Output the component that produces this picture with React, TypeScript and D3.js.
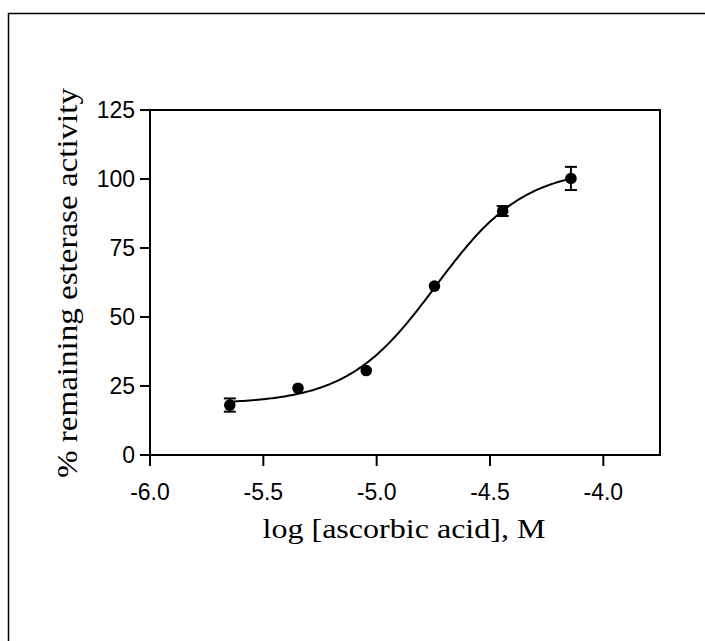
import React from "react";
import * as d3 from "d3";

const logConc = [-5.648, -5.347, -5.046, -4.745, -4.444, -4.143];
const activity = [18.1, 24.2, 30.6, 61.2, 88.4, 100.2];
const sem = [2.4, 0, 0, 0, 1.8, 4.2];
const xTicks = [-6.0, -5.5, -5.0, -4.5, -4.0];
const yTicks = [0, 25, 50, 75, 100, 125];
// fitted sigmoid (4-parameter logistic) parameters
const fitBottom = 18.5;
const fitTop = 104;
const fitLogEC50 = -4.739;
const fitHill = 2.22;

const W = 705;
const H = 641;
const L = 150, R = 660, T = 110, B = 455;

export default function App() {
  const x = d3.scaleLinear().domain([-6, -3.75]).range([L, R]);
  const y = d3.scaleLinear().domain([0, 125]).range([B, T]);
  const model = (v: number) =>
    fitBottom + (fitTop - fitBottom) / (1 + Math.pow(10, (fitLogEC50 - v) * fitHill));
  const xs = d3.range(0, 201).map(i => logConc[0] + (logConc[logConc.length - 1] - logConc[0]) * i / 200);
  const line = d3.line<number>().x(v => x(v)).y(v => y(model(v)));
  const sans = "'Liberation Sans', Arial, sans-serif";
  const serif = "'Liberation Serif', 'Times New Roman', serif";
  return (
    <svg width={W} height={H} style={{ position: "absolute", left: 0, top: 0, background: "#fff" }}>
      <rect x={0} y={0} width={W} height={H} fill="#fff" />
      <rect x={8.5} y={13.5} width={W + 10} height={H + 10} fill="none" stroke="#000" strokeWidth={1.5} />
      {/* plot frame */}
      <rect x={L} y={T} width={R - L} height={B - T} fill="none" stroke="#000" strokeWidth={2} />
      {yTicks.map(t => (
        <g key={"y" + t}>
          <line x1={L - 10} x2={L} y1={y(t)} y2={y(t)} stroke="#000" strokeWidth={2} />
          <text x={L - 15} y={y(t)} dy="0.36em" textAnchor="end" fontFamily={sans} fontSize={23} fill="#000">
            {t}
          </text>
        </g>
      ))}
      {xTicks.map(t => (
        <g key={"x" + t}>
          <line x1={x(t)} x2={x(t)} y1={B} y2={B + 11} stroke="#000" strokeWidth={2} />
          <text x={x(t)} y={500} textAnchor="middle" fontFamily={sans} fontSize={23} fill="#000">
            {d3.format(".1f")(t).replace("−", "-")}
          </text>
        </g>
      ))}
      <path d={line(xs) || ""} fill="none" stroke="#000" strokeWidth={2} />
      {logConc.map((c, i) => (
        <g key={"p" + i}>
          {sem[i] > 0 && (
            <g>
              <line x1={x(c)} x2={x(c)} y1={y(activity[i] - sem[i])} y2={y(activity[i] + sem[i])} stroke="#000" strokeWidth={2} />
              <line x1={x(c) - 6} x2={x(c) + 6} y1={y(activity[i] - sem[i])} y2={y(activity[i] - sem[i])} stroke="#000" strokeWidth={2} />
              <line x1={x(c) - 6} x2={x(c) + 6} y1={y(activity[i] + sem[i])} y2={y(activity[i] + sem[i])} stroke="#000" strokeWidth={2} />
            </g>
          )}
          <circle cx={x(c)} cy={y(activity[i])} r={5.8} fill="#000" />
        </g>
      ))}
      <text x={404} y={538} textAnchor="middle" fontFamily={serif} fontSize={28} fill="#000"
        textLength={283} lengthAdjust="spacingAndGlyphs">
        log [ascorbic acid], M
      </text>
      <text transform="translate(77,283) rotate(-90)" textAnchor="middle" fontFamily={serif} fontSize={30} fill="#000"
        textLength={390} lengthAdjust="spacingAndGlyphs">
        % remaining esterase activity
      </text>
    </svg>
  );
}
